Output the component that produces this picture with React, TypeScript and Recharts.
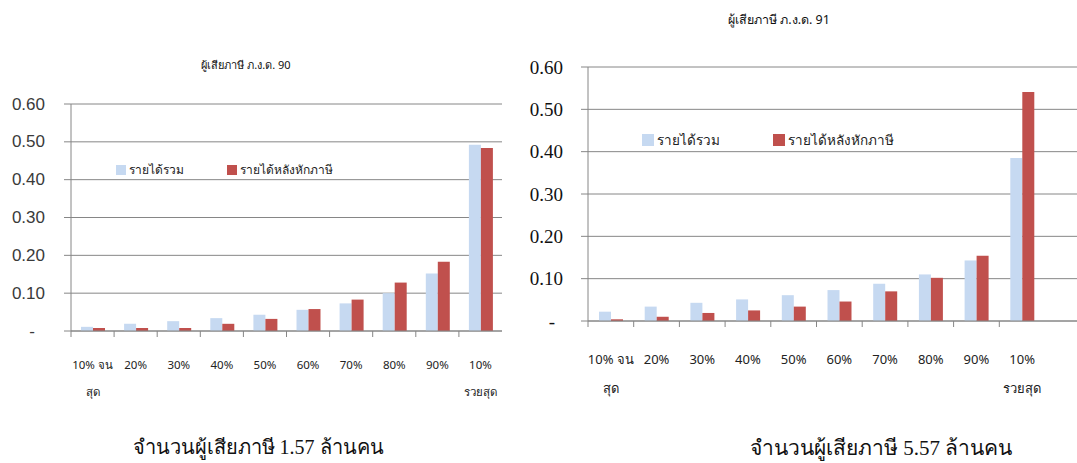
import React from 'react';
import { BarChart, Bar, XAxis, YAxis, CartesianGrid, Legend } from 'recharts';

// Income share by decile, taxpayers filing ภ.ง.ด. 90 and ภ.ง.ด. 91
const deciles = ['10% จน\nสุด', '20%', '30%', '40%', '50%', '60%', '70%', '80%', '90%', '10%\nรวยสุด'];
const seriesNames = ['รายได้รวม', 'รายได้หลังหักภาษี'];
const pnd90Gross = [0.011, 0.019, 0.026, 0.034, 0.043, 0.056, 0.073, 0.1, 0.152, 0.492];
const pnd90Net = [0.008, 0.008, 0.008, 0.019, 0.032, 0.058, 0.083, 0.128, 0.183, 0.484];
const pnd91Gross = [0.022, 0.034, 0.043, 0.051, 0.061, 0.073, 0.088, 0.11, 0.143, 0.385];
const pnd91Net = [0.004, 0.01, 0.019, 0.025, 0.034, 0.046, 0.07, 0.102, 0.154, 0.541];
const yTicks = [0, 0.1, 0.2, 0.3, 0.4, 0.5, 0.6];
const titles = ['ผู้เสียภาษี ภ.ง.ด. 90', 'ผู้เสียภาษี ภ.ง.ด. 91'];
const captions = ['จำนวนผู้เสียภาษี 1.57 ล้านคน', 'จำนวนผู้เสียภาษี 5.57 ล้านคน'];

const GROSS_COLOR = '#C6D9F1';
const NET_COLOR = '#C0504D';
const AXIS_COLOR = '#868686';
const THAI_SANS = "Tahoma, 'Noto Sans', 'DejaVu Sans', 'Liberation Sans', sans-serif";
const THAI_SERIF = "'Liberation Serif', 'DejaVu Serif', serif";

const buildRows = (gross: number[], net: number[]) =>
  deciles.map((d, i) => ({ decile: d, gross: gross[i], net: net[i] }));

type PanelProps = {
  left: number;
  width: number;
  height: number;
  rows: { decile: string; gross: number; net: number }[];
  margin: { top: number; right: number; bottom: number; left: number };
  yAxisWidth: number;
  xPadRight: number;
  yFont: string;
  yFontSize: number;
  yColor: string;
  yTickMargin: number;
  zeroShift: number;
  xFontSize: number;
  xLine1: number;
  xLine2: number;
  legendPos: { left: number; top: number };
  legendFontSize: number;
  legendSwatch: number;
  legendStep: number;
};

function Panel(p: PanelProps) {
  const plotW = p.width - p.margin.left - p.margin.right - p.yAxisWidth - p.xPadRight;
  const band = plotW / p.rows.length;

  const XTick = (props: any) => {
    const { x, y, payload } = props;
    const lines = String(payload.value).split('\n');
    return (
      <g>
        <line x1={x - band / 2} x2={x - band / 2} y1={y} y2={y + 6} stroke={AXIS_COLOR} />
        {lines.map((ln, i) => (
          <text
            key={i}
            x={x}
            y={y + (i === 0 ? p.xLine1 : p.xLine2)}
            textAnchor="middle"
            dominantBaseline="central"
            fontSize={p.xFontSize}
            style={{ fontFamily: THAI_SANS }}
            fill="#222"
          >
            {ln}
          </text>
        ))}
      </g>
    );
  };

  const YTick = (props: any) => {
    const { x, y, payload } = props;
    const v = Number(payload.value);
    const isZero = Math.abs(v) < 1e-9;
    return (
      <text
        x={isZero ? x - p.zeroShift : x}
        y={y}
        textAnchor={isZero ? 'middle' : 'end'}
        dominantBaseline="central"
        fontSize={p.yFontSize}
        style={{ fontFamily: p.yFont }}
        fill={p.yColor}
      >
        {isZero ? '-' : v.toFixed(2)}
      </text>
    );
  };

  const LegendBox = () => (
    <div style={{ position: 'relative', height: p.legendSwatch + 4, width: p.legendStep * 2 }}>
      {[GROSS_COLOR, NET_COLOR].map((c, i) => (
        <div
          key={i}
          style={{
            position: 'absolute',
            left: i * p.legendStep,
            top: 0,
            display: 'flex',
            alignItems: 'center',
            whiteSpace: 'nowrap',
          }}
        >
          <span style={{ display: 'inline-block', width: p.legendSwatch, height: p.legendSwatch, background: c }} />
          <span
            style={{
              marginLeft: 3,
              fontSize: p.legendFontSize,
              fontFamily: THAI_SANS,
              color: '#222',
              lineHeight: `${p.legendSwatch}px`,
            }}
          >
            {seriesNames[i]}
          </span>
        </div>
      ))}
    </div>
  );

  return (
    <div style={{ position: 'absolute', left: p.left, top: 0 }}>
      <BarChart width={p.width} height={p.height} data={p.rows} margin={p.margin} barGap={0} barSize={12}>
        <CartesianGrid vertical={false} stroke={AXIS_COLOR} />
        <XAxis
          dataKey="decile"
          interval={0}
          height={70}
          padding={{ left: 0, right: p.xPadRight }}
          axisLine={{ stroke: AXIS_COLOR }}
          tickLine={false}
          tickSize={0}
          tickMargin={0}
          tick={<XTick />}
        />
        <YAxis
          domain={[0, 0.6]}
          ticks={yTicks}
          width={p.yAxisWidth}
          axisLine={{ stroke: AXIS_COLOR }}
          tickLine={{ stroke: AXIS_COLOR }}
          tickSize={7}
          tickMargin={p.yTickMargin}
          tick={<YTick />}
        />
        <Legend
          layout="horizontal"
          verticalAlign="middle"
          align="center"
          content={<LegendBox />}
          wrapperStyle={{ left: p.legendPos.left, top: p.legendPos.top, width: 'auto' }}
        />
        <Bar dataKey="gross" name={seriesNames[0]} fill={GROSS_COLOR} isAnimationActive={false} />
        <Bar dataKey="net" name={seriesNames[1]} fill={NET_COLOR} isAnimationActive={false} />
      </BarChart>
    </div>
  );
}

const textStyle = (left: number, top: number, size: number, family: string): React.CSSProperties => ({
  position: 'absolute',
  left,
  top,
  transform: 'translate(-50%, -50%)',
  fontSize: size,
  fontFamily: family,
  color: '#111',
  whiteSpace: 'nowrap',
});

export default function App() {
  return (
    <div style={{ position: 'absolute', left: 0, top: 0, width: 1077, height: 463, background: '#fff', overflow: 'hidden' }}>
      <Panel
        left={0}
        width={520}
        height={463}
        rows={buildRows(pnd90Gross, pnd90Net)}
        margin={{ top: 104, right: 18, bottom: 62, left: 0 }}
        yAxisWidth={71}
        xPadRight={0}
        yFont="'Liberation Sans', Arial, sans-serif"
        yFontSize={17}
        yColor="#3a3a3a"
        yTickMargin={19}
        zeroShift={13}
        xFontSize={11.5}
        xLine1={33}
        xLine2={60}
        legendPos={{ left: 116, top: 165 }}
        legendFontSize={12}
        legendSwatch={10}
        legendStep={111}
      />
      <Panel
        left={520}
        width={557}
        height={463}
        rows={buildRows(pnd91Gross, pnd91Net)}
        margin={{ top: 67, right: 0, bottom: 72, left: 0 }}
        yAxisWidth={68}
        xPadRight={32}
        yFont="'Liberation Serif', 'DejaVu Serif', serif"
        yFontSize={19}
        yColor="#111"
        yTickMargin={18}
        zeroShift={11}
        xFontSize={13}
        xLine1={38}
        xLine2={67}
        legendPos={{ left: 122, top: 134 }}
        legendFontSize={13.5}
        legendSwatch={12}
        legendStep={131}
      />
      <div style={textStyle(246, 65, 11, THAI_SANS)}>{titles[0]}</div>
      <div style={textStyle(779, 20, 12.5, THAI_SANS)}>{titles[1]}</div>
      <div style={textStyle(258, 447, 20, THAI_SERIF)}>{captions[0]}</div>
      <div style={textStyle(881, 447, 21, THAI_SERIF)}>{captions[1]}</div>
    </div>
  );
}
